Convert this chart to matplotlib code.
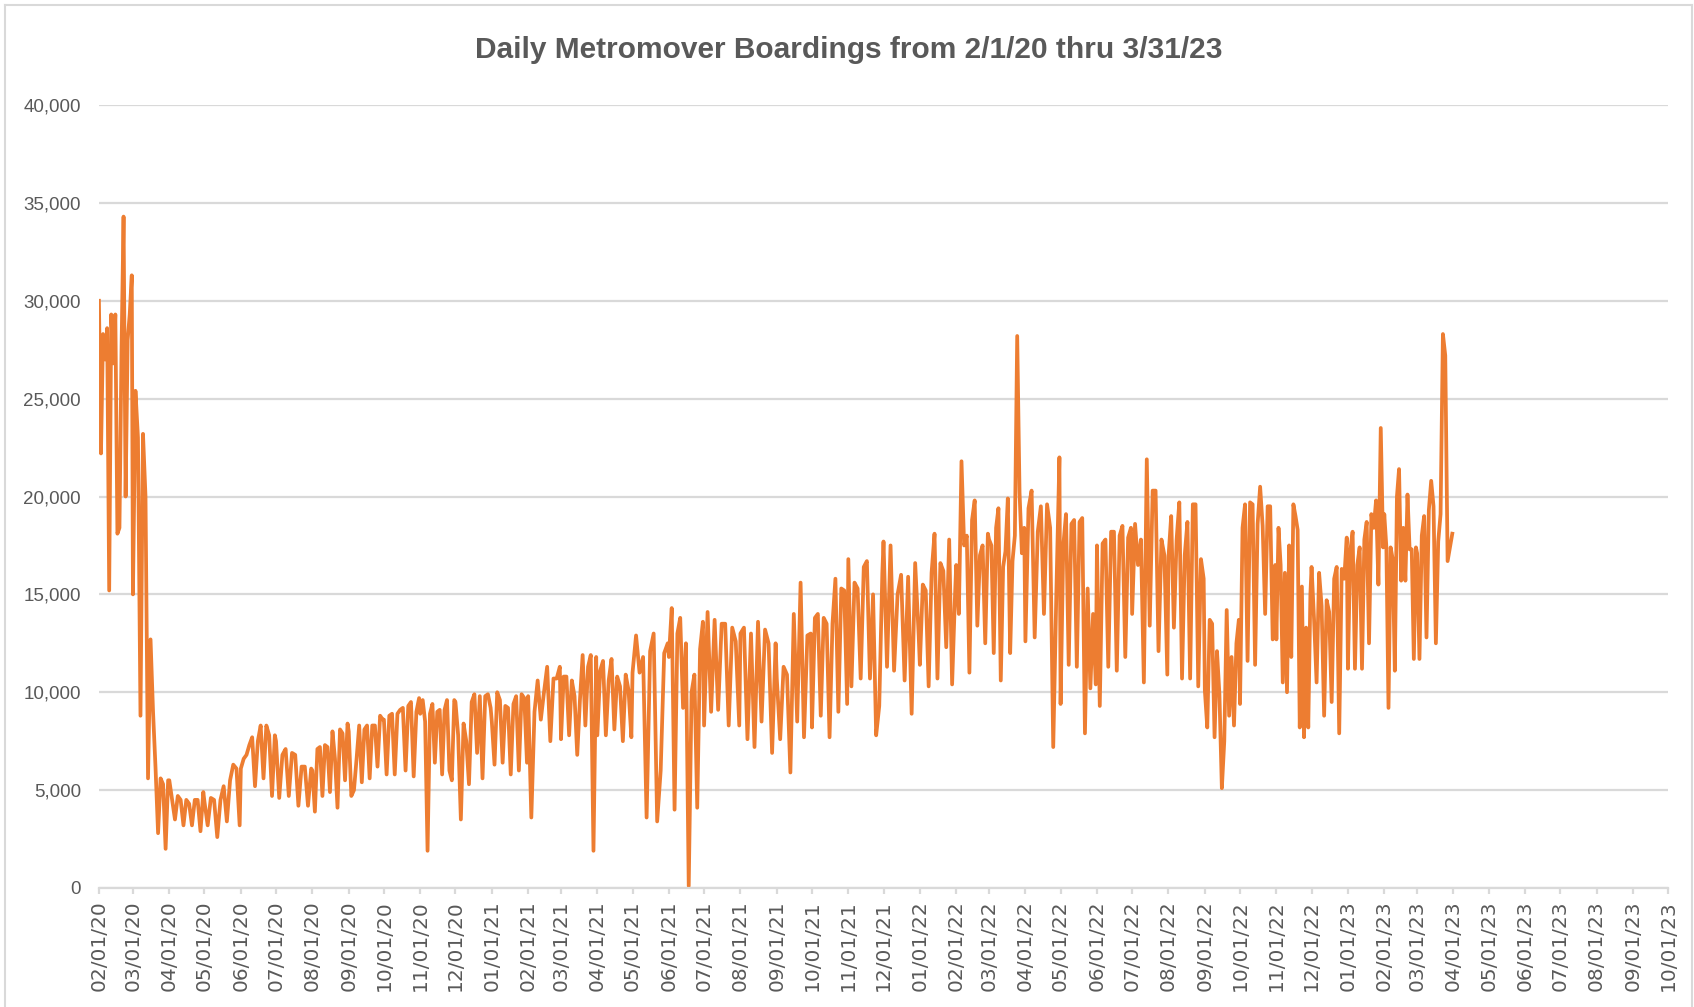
import numpy as np
import pandas as pd
import matplotlib
matplotlib.use('Agg')
import matplotlib.pyplot as plt
import matplotlib.dates as mdates
from matplotlib.ticker import FuncFormatter, MultipleLocator
from matplotlib.lines import Line2D

# ========== data (thousands of boardings) ==========
# one inner list per month, values in the order they appear inside that month
boardings_2020 = [
    [30.0, 22.2, 28.3, 27.0, 28.6, 15.2, 29.3, 26.8, 29.3, 18.1, 18.4, 27.4, 34.3, 20.0, 28.0, 29.3, 31.3],  # Feb
    [15.0, 25.4, 23.0, 8.8, 23.2, 20.0, 5.6, 12.7, 9.0, 6.1, 2.8, 5.6, 5.3, 2.0, 5.5],  # Mar
    [5.5, 4.5, 3.5, 4.7, 4.5, 3.2, 4.5, 4.3, 3.2, 4.5, 4.5, 2.9, 4.9],  # Apr
    [4.4, 3.2, 4.6, 4.5, 2.6, 4.5, 5.2, 3.4, 5.5, 6.3, 6.1, 3.2],  # May
    [6.1, 6.6, 6.8, 7.3, 7.7, 5.2, 7.5, 8.3, 5.6, 8.3, 7.8, 4.7, 7.8],  # Jun
    [7.5, 4.6, 6.8, 7.1, 4.7, 6.9, 6.8, 4.2, 6.2, 6.2, 4.2, 6.1],  # Jul
    [6.0, 3.9, 7.1, 7.2, 4.7, 7.3, 7.2, 4.9, 8.0, 6.6, 4.1, 8.1, 7.9, 5.5, 8.4],  # Aug
    [8.0, 4.7, 5.0, 6.6, 8.3, 5.4, 8.1, 8.3, 5.6, 8.3, 8.3, 6.2, 8.8, 8.6],  # Sep
    [8.6, 5.8, 8.8, 8.9, 5.8, 8.9, 9.1, 9.2, 6.0, 9.3, 9.5, 5.7, 9.0, 9.7],  # Oct
    [8.9, 9.6, 8.5, 1.9, 8.9, 9.4, 6.4, 9.0, 9.1, 5.8, 9.1, 9.6, 6.0, 5.5, 9.6],  # Nov
    [9.5, 7.8, 3.5, 8.4, 7.5, 5.3, 9.5, 9.9, 6.9, 9.8, 5.6, 9.8, 9.9, 9.2],  # Dec
]
boardings_2021 = [
    [8.5, 6.3, 10.0, 9.6, 6.4, 9.3, 9.2, 5.8, 9.4, 9.8, 6.0, 9.9, 9.7, 6.4],  # Jan
    [9.8, 3.6, 9.0, 10.6, 8.6, 10.0, 11.3, 7.5, 10.7, 10.7, 11.3],  # Feb
    [7.6, 10.8, 10.8, 7.8, 10.6, 9.8, 6.8, 9.6, 11.9, 8.3, 11.3, 11.9, 1.9, 11.8],  # Mar
    [7.8, 11.1, 11.6, 7.8, 10.6, 11.7, 8.1, 10.8, 10.3, 7.5, 10.9, 10.1, 7.7],  # Apr
    [11.0, 12.9, 11.0, 11.8, 3.6, 12.1, 13.0, 3.4, 6.0, 12.0, 12.5],  # May
    [11.8, 14.3, 4.0, 13.0, 13.8, 9.2, 12.5, 0.1, 10.0, 10.9, 4.1, 12.2, 13.6],  # Jun
    [8.3, 14.1, 9.0, 13.7, 9.1, 13.5, 13.5, 8.3, 13.3, 12.6, 8.3],  # Jul
    [13.0, 13.3, 7.6, 13.0, 7.2, 13.6, 8.5, 13.2, 12.5, 6.9, 12.5],  # Aug
    [10.7, 7.6, 11.3, 10.9, 5.9, 14.0, 8.5, 15.6, 7.7, 12.9, 13.0],  # Sep
    [8.2, 13.8, 14.0, 8.8, 13.8, 13.5, 7.7, 13.5, 15.8, 9.0, 15.3, 15.2, 9.4],  # Oct
    [16.8, 10.3, 15.6, 15.3, 10.7, 16.4, 16.7, 10.7, 15.0, 7.8, 9.3, 16.1],  # Nov
    [17.7, 11.3, 17.5, 11.1, 15.0, 16.0, 10.6, 15.9, 8.9, 16.6, 12.9],  # Dec
]
boardings_2022 = [
    [11.4, 15.5, 15.2, 10.3, 16.1, 18.1, 10.7, 16.6, 16.2, 12.3, 17.8, 10.4, 15.0],  # Jan
    [16.5, 14.0, 21.8, 17.5, 18.0, 11.0, 18.8, 19.8, 13.4, 17.0, 17.5, 12.5, 18.1],  # Feb
    [17.8, 17.5, 12.0, 18.4, 19.4, 10.6, 16.4, 17.2, 19.9, 12.0, 16.7, 18.0, 28.2, 20.2, 17.1, 18.4],  # Mar
    [12.6, 19.4, 20.3, 12.8, 18.2, 19.5, 14.0, 19.6, 18.4, 7.2, 15.0, 22.0],  # Apr
    [9.4, 17.5, 19.1, 11.4, 18.6, 18.8, 11.3, 18.7, 18.9, 7.9, 15.3, 10.2, 14.0, 10.4],  # May
    [17.5, 9.3, 17.6, 17.8, 11.3, 18.2, 18.2, 11.1, 18.0, 18.5, 11.8, 17.9, 18.4],  # Jun
    [14.0, 18.6, 16.5, 17.8, 10.5, 21.9, 13.4, 20.3, 20.3, 12.1, 17.8, 17.0, 10.9],  # Jul
    [16.9, 19.0, 13.3, 17.8, 19.7, 10.7, 17.0, 18.7, 10.7, 19.6, 19.6, 10.3, 16.8, 15.8],  # Aug
    [10.1, 8.2, 13.7, 13.5, 7.7, 12.1, 9.9, 5.1, 7.5, 14.2, 8.8, 11.8, 8.3, 12.5, 13.7],  # Sep
    [9.4, 18.4, 19.6, 11.6, 19.7, 19.6, 11.4, 18.6, 20.5, 18.5, 14.0, 19.5, 19.5, 12.7, 16.5],  # Oct
    [12.7, 18.4, 16.5, 10.5, 16.1, 10.0, 17.5, 11.8, 19.6, 19.0, 18.3, 8.2, 15.4, 7.7, 13.3, 8.2, 15.0],  # Nov
    [16.4, 13.7, 10.5, 16.1, 14.4, 8.8, 14.7, 14.1, 9.5, 15.8, 16.4, 7.9, 16.3, 15.8, 17.9],  # Dec
]
boardings_2023 = [
    [11.2, 17.2, 18.2, 11.2, 16.5, 17.4, 11.2, 17.8, 18.7, 12.5, 19.1, 18.4, 19.8, 15.5, 23.5, 17.4],  # Jan
    [19.1, 17.4, 9.2, 17.4, 16.8, 11.1, 20.0, 21.4, 15.7, 18.4, 15.7, 20.1, 17.3, 17.3, 11.7, 17.4],  # Feb
    [17.1, 11.7, 18.0, 19.0, 12.8, 19.3, 20.8, 19.5, 12.5, 17.7, 19.1, 28.3, 27.2, 16.7, 17.4, 18.1],  # Mar
]

title = 'Daily Metromover Boardings from 2/1/20 thru 3/31/23'
first_month = '2020-02'
last_month = '2023-03'
x_start, x_end = '2020-02-01', '2023-10-01'

# ========== build the date axis ==========
months = pd.period_range(first_month, last_month, freq='M')
month_lists = boardings_2020 + boardings_2021 + boardings_2022 + boardings_2023

dates, values = [], []
for per, vals in zip(months, month_lists):
    offs = np.linspace(0, per.days_in_month - 1, len(vals))
    dates.extend(per.start_time + pd.to_timedelta(offs, unit='D'))
    values.extend(vals)
values = np.array(values) * 1000

# ========== plot ==========
grey_txt = '#595959'
grey_line = '#D9D9D9'

fig = plt.figure(figsize=(16.94, 10.07), dpi=100)
ax = fig.add_axes([0.0584, 0.1182, 0.9263, 0.7775])

ax.plot(dates, values, color='#ED7D31', linewidth=2.7, solid_joinstyle='round')

ax.set_xlim(pd.Timestamp(x_start), pd.Timestamp(x_end))
ax.set_ylim(0, 40000)
ax.yaxis.set_major_locator(MultipleLocator(5000))
ax.yaxis.set_major_formatter(FuncFormatter(lambda v, p: f'{v:,.0f}'))
ax.xaxis.set_major_locator(mdates.MonthLocator())
ax.xaxis.set_major_formatter(mdates.DateFormatter('%m/%d/%y'))

ax.grid(axis='y', color=grey_line, linewidth=1.6)
ax.set_axisbelow(True)
for side in ['left', 'right', 'top']:
    ax.spines[side].set_visible(False)
ax.spines['bottom'].set_color(grey_line)
ax.spines['bottom'].set_linewidth(1.6)

ax.tick_params(axis='y', length=0, pad=13, labelsize=13.5, labelcolor=grey_txt)
ax.tick_params(axis='x', length=4, width=1.6, color=grey_line, pad=5,
               labelsize=14.5, labelcolor=grey_txt, labelrotation=90)
for lab in ax.get_yticklabels():
    lab.set_family(['Liberation Sans', 'DejaVu Sans'])
for lab in ax.get_xticklabels():
    lab.set_family(['DejaVu Sans'])

fig.text(0.501, 0.950, title, ha='center', va='center', fontsize=21.5,
         fontweight='bold', color=grey_txt, family=['Liberation Sans', 'DejaVu Sans'])

# chart-area border like the Excel frame
for xs, ys in [([0.003, 0.003], [0.0, 0.995]), ([0.003, 0.999], [0.995, 0.995]),
               ([0.999, 0.999], [0.0, 0.995])]:
    fig.add_artist(Line2D(xs, ys, transform=fig.transFigure, color=grey_line, linewidth=1.5))

plt.savefig('out.png', dpi=100)
